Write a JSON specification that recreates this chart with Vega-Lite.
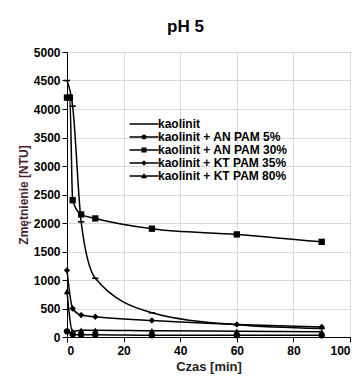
{
  "$schema": "https://vega.github.io/schema/vega-lite/v6.json",
  "width": 283,
  "height": 285,
  "autosize": {"type": "none"},
  "padding": {"left": 67, "top": 52, "right": 10, "bottom": 40},
  "title": {"text": "pH 5", "fontSize": 17, "font": "Liberation Sans", "fontWeight": "bold", "color": "#000", "anchor": "middle", "dx": -23, "offset": -3, "baseline": "alphabetic"},
  "config": {
    "font": "Liberation Sans",
    "view": {"stroke": "#222", "strokeWidth": 1},
    "axis": {"labelFont": "Liberation Sans", "labelFontSize": 12, "labelFontWeight": "bold", "labelColor": "#000", "titleFont": "Liberation Sans", "titleFontSize": 12, "titleFontWeight": "bold", "gridColor": "#d9d9d9", "gridWidth": 1, "domainColor": "#000", "tickColor": "#000", "tickSize": 5}
  },
  "data": {"values": [
    {"series": "kaolinit", "t": 0, "v": 4500},
    {"series": "kaolinit", "t": 2, "v": 4050},
    {"series": "kaolinit", "t": 5, "v": 2020},
    {"series": "kaolinit", "t": 10, "v": 1030},
    {"series": "kaolinit", "t": 30, "v": 425},
    {"series": "kaolinit", "t": 60, "v": 215},
    {"series": "kaolinit", "t": 90, "v": 150},
    {"series": "kaolinit + AN PAM 5%", "t": 0, "v": 100},
    {"series": "kaolinit + AN PAM 5%", "t": 2, "v": 50},
    {"series": "kaolinit + AN PAM 5%", "t": 5, "v": 40},
    {"series": "kaolinit + AN PAM 5%", "t": 10, "v": 40},
    {"series": "kaolinit + AN PAM 5%", "t": 30, "v": 30},
    {"series": "kaolinit + AN PAM 5%", "t": 60, "v": 30},
    {"series": "kaolinit + AN PAM 5%", "t": 90, "v": 30},
    {"series": "kaolinit + AN PAM 30%", "t": 0, "v": 4200},
    {"series": "kaolinit + AN PAM 30%", "t": 1, "v": 4200},
    {"series": "kaolinit + AN PAM 30%", "t": 2, "v": 2400},
    {"series": "kaolinit + AN PAM 30%", "t": 5, "v": 2150},
    {"series": "kaolinit + AN PAM 30%", "t": 10, "v": 2080},
    {"series": "kaolinit + AN PAM 30%", "t": 30, "v": 1900},
    {"series": "kaolinit + AN PAM 30%", "t": 60, "v": 1800},
    {"series": "kaolinit + AN PAM 30%", "t": 90, "v": 1670},
    {"series": "kaolinit + KT PAM 35%", "t": 0, "v": 1170},
    {"series": "kaolinit + KT PAM 35%", "t": 2, "v": 500},
    {"series": "kaolinit + KT PAM 35%", "t": 5, "v": 385},
    {"series": "kaolinit + KT PAM 35%", "t": 10, "v": 355},
    {"series": "kaolinit + KT PAM 35%", "t": 30, "v": 290},
    {"series": "kaolinit + KT PAM 35%", "t": 60, "v": 220},
    {"series": "kaolinit + KT PAM 35%", "t": 90, "v": 175},
    {"series": "kaolinit + KT PAM 80%", "t": 0, "v": 800},
    {"series": "kaolinit + KT PAM 80%", "t": 2, "v": 100},
    {"series": "kaolinit + KT PAM 80%", "t": 5, "v": 120},
    {"series": "kaolinit + KT PAM 80%", "t": 10, "v": 120},
    {"series": "kaolinit + KT PAM 80%", "t": 30, "v": 110},
    {"series": "kaolinit + KT PAM 80%", "t": 60, "v": 100},
    {"series": "kaolinit + KT PAM 80%", "t": 90, "v": 90}
  ]},
  "encoding": {
    "x": {"field": "t", "type": "quantitative", "scale": {"domain": [0, 100], "nice": false}, "axis": {"values": [0, 20, 40, 60, 80, 100], "format": "d", "title": "Czas [min]", "titleFontSize": 13, "labelPadding": 3, "titlePadding": 4, "titleColor": "#222"}},
    "y": {"field": "v", "type": "quantitative", "scale": {"domain": [0, 5000], "nice": false}, "axis": {"values": [0, 500, 1000, 1500, 2000, 2500, 3000, 3500, 4000, 4500, 5000], "format": "d", "title": "Zmętnienie [NTU]", "labelPadding": 2, "titlePadding": 3, "titleColor": "#4a1f35"}}
  },
  "layer": [
    {
      "mark": {"type": "line", "color": "#000", "strokeWidth": 1.5, "interpolate": "monotone"},
      "encoding": {"detail": {"field": "series"}}
    },
    {
      "mark": {"type": "point", "filled": true, "color": "#000", "opacity": 1, "size": 40},
      "encoding": {
        "shape": {"field": "series", "type": "nominal", "sort": ["kaolinit", "kaolinit + AN PAM 5%", "kaolinit + AN PAM 30%", "kaolinit + KT PAM 35%", "kaolinit + KT PAM 80%"], "scale": {"range": ["M-1,-0.25H1V0.25H-1Z", "circle", "square", "diamond", "triangle-up"]}, "legend": null}
      }
    },
    {
      "mark": {"type": "point", "filled": true, "color": "#000", "opacity": 0, "size": 100},
      "encoding": {
        "shape": {"field": "series", "type": "nominal", "sort": ["kaolinit", "kaolinit + AN PAM 5%", "kaolinit + AN PAM 30%", "kaolinit + KT PAM 35%", "kaolinit + KT PAM 80%"],
          "scale": {"range": [
            "M-2.9,-0.15H2.9V0.15H-2.9ZM-0.5,-0.12H0.5V0.12H-0.5Z",
            "M-2.9,-0.15H2.9V0.15H-2.9ZM0.5,0A0.5,0.5 0 1,1 -0.5,0A0.5,0.5 0 1,1 0.5,0Z",
            "M-2.9,-0.15H2.9V0.15H-2.9ZM-0.5,-0.5H0.5V0.5H-0.5Z",
            "M-2.9,-0.15H2.9V0.15H-2.9ZM0,-0.55L0.55,0L0,0.55L-0.55,0Z",
            "M-2.9,-0.15H2.9V0.15H-2.9ZM0,-0.6L0.6,0.45H-0.6Z"
          ]},
          "legend": {"title": null, "orient": "none", "legendX": 71, "legendY": 66, "padding": 0, "rowPadding": 1, "symbolOffset": 0, "labelOffset": 8, "symbolSize": 100, "symbolOpacity": 1, "symbolFillColor": "#000", "symbolStrokeColor": "#000", "symbolStrokeWidth": 0, "labelFont": "Liberation Sans", "labelFontSize": 12, "labelFontWeight": "bold", "labelColor": "#000", "labelLimit": 300}
        }
      }
    }
  ],
  "resolve": {"scale": {"shape": "independent"}, "legend": {"shape": "independent"}}
}
